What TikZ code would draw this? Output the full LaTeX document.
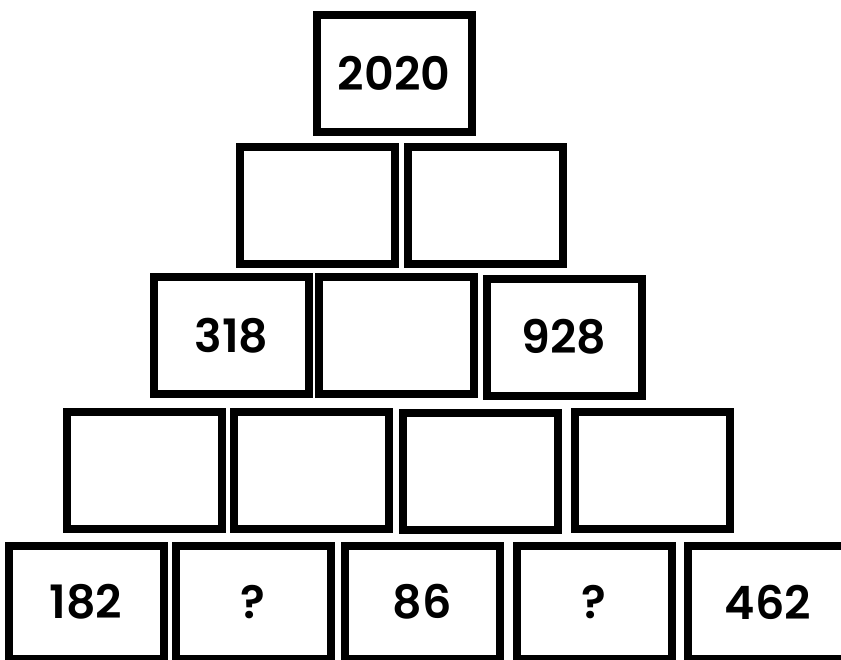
\documentclass[tikz,border=0pt]{standalone}
\usepackage{fontspec}
\setmainfont{Poppins}[BoldFont={Poppins SemiBold}]
\usepackage{tikz}

\begin{document}
\begin{tikzpicture}[x=1pt, y=-1pt,
    cell/.style={draw, line width=8pt, minimum width=155pt, minimum height=117pt,
                 inner sep=0pt, font=\fontsize{46}{50}\selectfont\bfseries}]
    % Page
    \useasboundingbox (0, 0) rectangle (841, 659);
    \clip (0, 0) rectangle (841, 659);

    % Top
    \node[cell] (top) at (394, 73.5) {2020};

    % Second row
    \node[cell] (b21) at (317.5, 205) {};
    \node[cell] (b22) at (485, 205) {};

    % Third row
    \node[cell] (b31) at (231.5, 335.5) {318};
    \node[cell] (b32) at (396.5, 335.5) {};
    \node[cell] (b33) at (564, 337) {928};

    % Fourth row
    \node[cell] (b41) at (144, 470.5) {};
    \node[cell] (b42) at (311.5, 470.5) {};
    \node[cell] (b43) at (480.5, 471.5) {};
    \node[cell] (b44) at (652.5, 470.5) {};

    % Bottom row (cut off by the page)
    \node[cell, minimum height=113pt] (b51) at (86, 602) {182};
    \node[cell, minimum height=113pt] (b52) at (253, 602) {?};
    \node[cell, minimum height=113pt] (b53) at (422.5, 602) {86};
    \node[cell, minimum height=113pt] (b54) at (594, 602) {?};
    \node[cell, minimum height=113pt, minimum width=160pt] (b55) at (768, 602) {462};
\end{tikzpicture}
\end{document}
